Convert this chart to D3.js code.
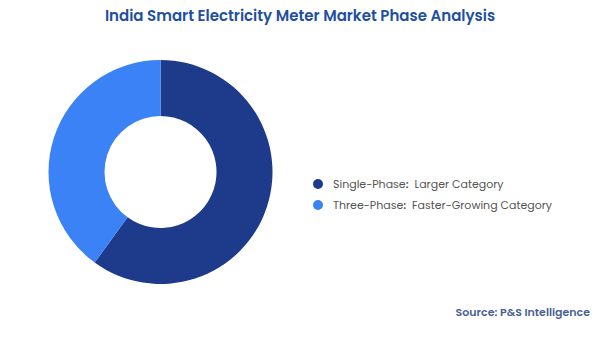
<!DOCTYPE html>
<html><head><meta charset="utf-8">
<script src="https://cdn.jsdelivr.net/npm/d3@7"></script>
<style>body{margin:0;background:#fff}</style>
</head><body>
<script>
const categories = ["Single-Phase", "Three-Phase"];
const descriptions = ["Larger Category", "Faster-Growing Category"];
const values = [60, 40];
const colors = ["#1e3a8a", "#3b82f6"];

const W = 600, H = 337;
const svg = d3.select("body").append("svg").attr("width", W).attr("height", H)
  .style("font-family", "Poppins, Inter, 'Open Sans', sans-serif");

svg.append("text").attr("x", 300).attr("y", 21).attr("text-anchor", "middle")
  .attr("font-size", 15).attr("font-weight", 600).attr("fill", "#1f4fa0")
  .text("India Smart Electricity Meter Market Phase Analysis");

const cx = 160.5, cy = 172, rO = 112, rI = 56;
const pie = d3.pie().sort(null).value(d => d)(values);
const arc = d3.arc().innerRadius(rI).outerRadius(rO);
const g = svg.append("g").attr("transform", `translate(${cx},${cy})`);
g.selectAll("path").data(pie).join("path").attr("d", arc)
  .attr("fill", (d, i) => colors[i]);

const y = d3.scalePoint().domain(categories).range([184, 205]);
const lg = svg.append("g");
categories.forEach((c, i) => {
  lg.append("circle").attr("cx", 318).attr("cy", y(c)).attr("r", 5).attr("fill", colors[i]);
  const t = lg.append("text").attr("x", 333).attr("y", y(c) + 4).attr("font-size", 11).attr("fill", "#555");
  t.append("tspan").text(c);
  t.append("tspan").attr("font-weight", 600).text(":");
  t.append("tspan").text("  " + descriptions[i]).attr("xml:space", "preserve");
});

svg.append("text").attr("x", 590).attr("y", 316).attr("text-anchor", "end")
  .attr("font-size", 11).attr("font-weight", 600).attr("fill", "#4a5f94")
  .text("Source: P&S Intelligence");
</script>
</body></html>
